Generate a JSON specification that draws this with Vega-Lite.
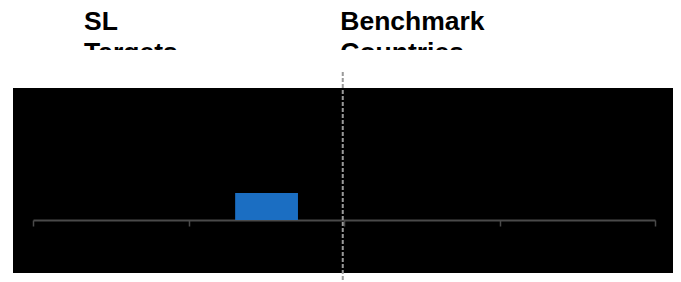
{
  "$schema": "https://vega.github.io/schema/vega-lite/v6.json",
  "width": 660,
  "height": 185,
  "autosize": {"type": "none"},
  "padding": {"left": 13, "top": 88, "right": 8, "bottom": 9},
  "background": "white",
  "config": {"view": {"fill": "black", "stroke": null}},
  "layer": [
    {
      "data": {"values": [
        {"header": "SL\nTargets", "pos": 8.2, "level": 7.04},
        {"header": "Benchmark\nCountries", "pos": 49.4, "level": 7.04}
      ]},
      "mark": {"type": "text", "align": "left", "baseline": "alphabetic", "font": "Liberation Sans", "fontWeight": "bold", "fontSize": 26.5, "lineHeight": 31, "lineBreak": "\n", "color": "black"},
      "encoding": {
        "x": {"field": "pos", "type": "quantitative", "scale": {"domain": [0, 100], "range": [20, 642], "nice": false, "zero": false},
          "axis": {"orient": "bottom", "offset": -53, "values": [0, 25, 50, 75, 100], "labels": false, "title": null, "grid": false, "domainColor": "#4a4a4a", "domainWidth": 2, "tickColor": "#4a4a4a", "tickWidth": 1.5, "tickSize": 6}},
        "y": {"field": "level", "type": "quantitative", "scale": {"domain": [0, 1], "range": [132, 105], "nice": false, "zero": false}, "axis": null},
        "text": {"field": "header", "type": "nominal"}
      }
    },
    {
      "data": {"values": [{"from": -10, "to": 110, "top": 6.3, "bottom": 4.93}]},
      "mark": {"type": "rect", "color": "white"},
      "encoding": {
        "x": {"field": "from", "type": "quantitative"},
        "x2": {"field": "to"},
        "y": {"field": "top", "type": "quantitative"},
        "y2": {"field": "bottom"}
      }
    },
    {
      "data": {"values": [{"series": "SL", "start": 32.5, "end": 42.6, "low": 0, "high": 1}]},
      "mark": {"type": "rect", "color": "#1b6ec2"},
      "encoding": {
        "x": {"field": "start", "type": "quantitative"},
        "x2": {"field": "end"},
        "y": {"field": "low", "type": "quantitative"},
        "y2": {"field": "high"}
      }
    },
    {
      "data": {"values": [{"series": "Benchmark", "value": 49.8, "top": 5.48, "bottom": -2.3}]},
      "mark": {"type": "rule", "stroke": "#9a9a9a", "strokeWidth": 2, "strokeDash": [4, 2]},
      "encoding": {
        "x": {"field": "value", "type": "quantitative"},
        "y": {"field": "top", "type": "quantitative"},
        "y2": {"field": "bottom"}
      }
    }
  ]
}
